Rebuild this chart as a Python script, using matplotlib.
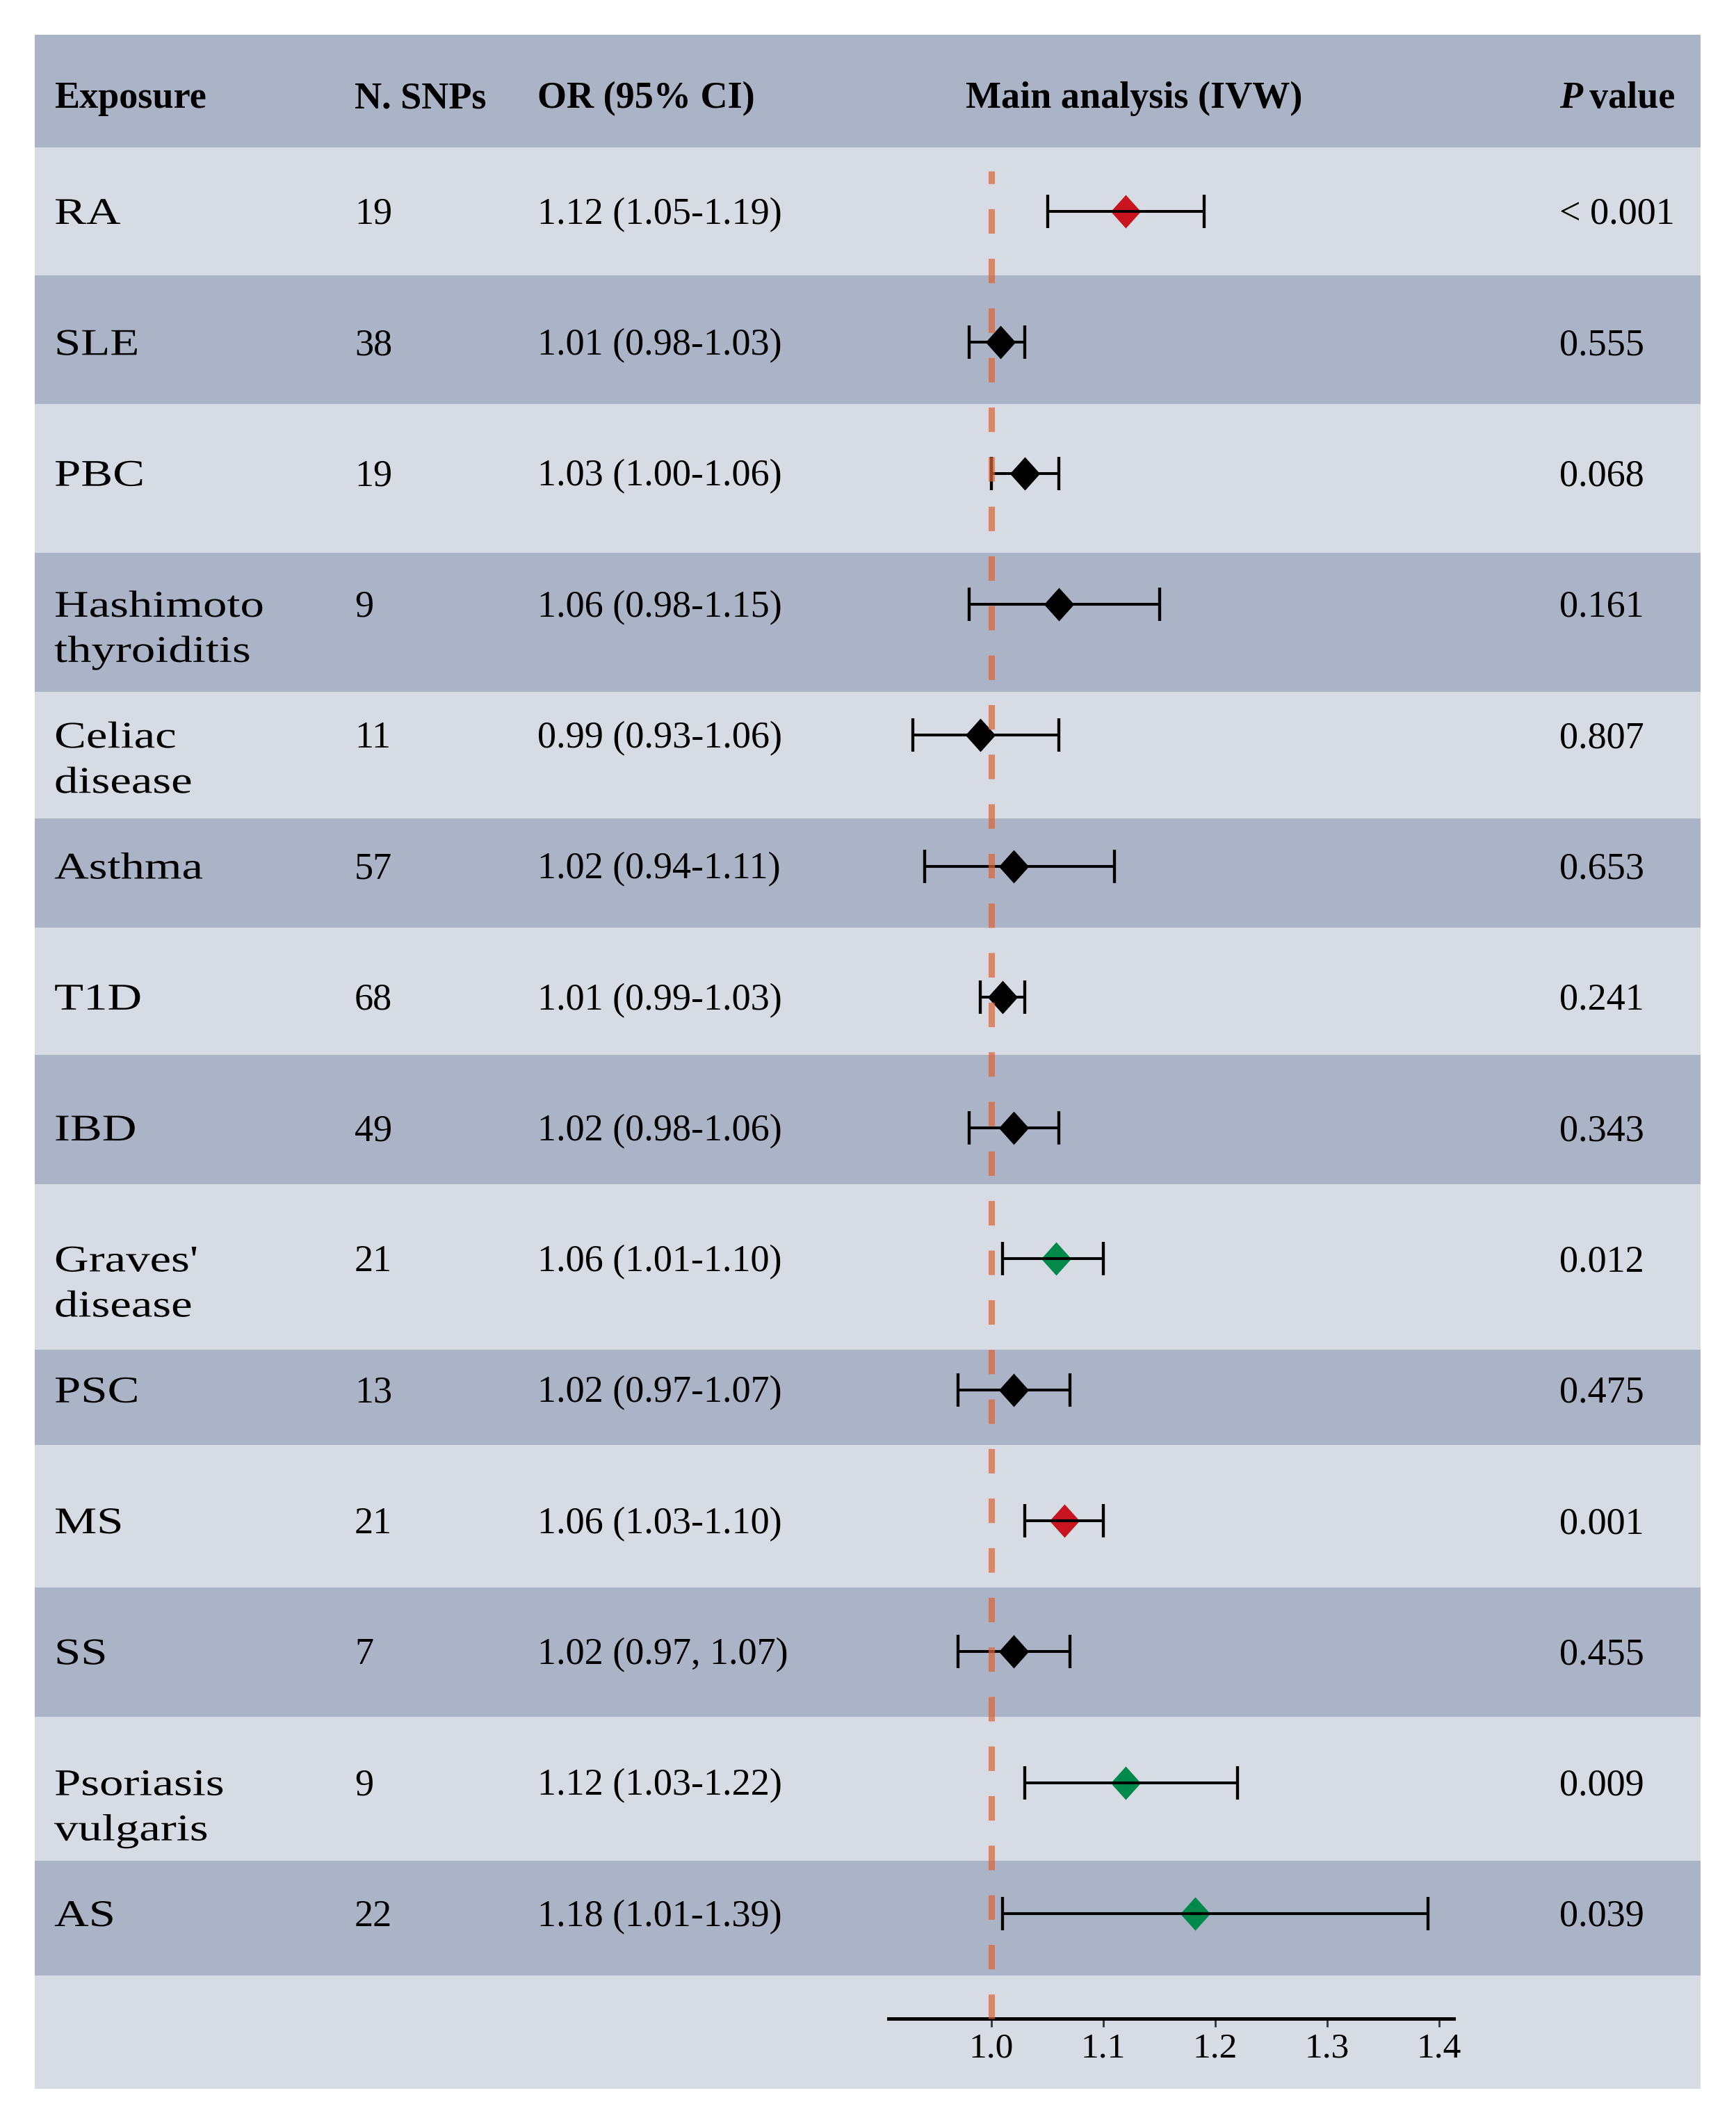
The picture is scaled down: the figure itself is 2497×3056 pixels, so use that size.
import matplotlib
matplotlib.use("Agg")
import matplotlib.pyplot as plt
from matplotlib.transforms import Affine2D
from matplotlib.patheffects import AbstractPathEffect

plt.rcParams['font.family'] = ['Liberation Serif', 'DejaVu Serif']

# ---- data ----
exposures = ["RA", "SLE", "PBC", "Hashimoto\nthyroiditis", "Celiac\ndisease", "Asthma",
             "T1D", "IBD", "Graves'\ndisease", "PSC", "MS", "SS", "Psoriasis\nvulgaris", "AS"]
n_snps = [19, 38, 19, 9, 11, 57, 68, 49, 21, 13, 21, 7, 9, 22]
# point estimates as drawn (the text column shows them rounded)
or_vals = [1.12, 1.008, 1.03, 1.06, 0.99, 1.02, 1.01, 1.02, 1.058, 1.02, 1.065, 1.02, 1.12, 1.182]
ci_low = [1.05, 0.98, 1.00, 0.98, 0.93, 0.94, 0.99, 0.98, 1.01, 0.97, 1.03, 0.97, 1.03, 1.01]
ci_high = [1.19, 1.03, 1.06, 1.15, 1.06, 1.11, 1.03, 1.06, 1.10, 1.07, 1.10, 1.07, 1.22, 1.39]
or_labels = ["1.12 (1.05-1.19)", "1.01 (0.98-1.03)", "1.03 (1.00-1.06)", "1.06 (0.98-1.15)",
             "0.99 (0.93-1.06)", "1.02 (0.94-1.11)", "1.01 (0.99-1.03)", "1.02 (0.98-1.06)",
             "1.06 (1.01-1.10)", "1.02 (0.97-1.07)", "1.06 (1.03-1.10)", "1.02 (0.97, 1.07)",
             "1.12 (1.03-1.22)", "1.18 (1.01-1.39)"]
p_labels = ["< 0.001", "0.555", "0.068", "0.161", "0.807", "0.653", "0.241", "0.343",
            "0.012", "0.475", "0.001", "0.455", "0.009", "0.039"]
# marker group: 'red' = strong, 'green' = nominal, 'black' = not significant
groups = ["red", "black", "black", "black", "black", "black", "black", "black",
          "green", "black", "red", "black", "green", "green"]
ticks = [1.0, 1.1, 1.2, 1.3, 1.4]

# ---- layout (pixels from top-left of the canvas) ----
W, H = 2497, 3056
band_edges = [50, 212, 396, 581, 795, 995, 1177, 1334, 1517, 1703, 1941, 2078,
              2283, 2469, 2676, 2841, 3004]
table_left, table_right = 50, 2446
col_x = [78, 510, 773, 1389, 2243]
header_y = 137
row0_y = 304
row_step = 188.3
line_gap = 65
axis_y = 2903
plot_left, plot_right, plot_top = 1278, 2091, 212
x_range = (0.908, 1.413)

light = '#D6DBE4'
dark = '#ABB4C7'
colors = {"red": '#C8141E', "green": '#00894A', "black": 'black'}
fs = 39


class Stretch(AbstractPathEffect):
    # widen text horizontally around its left origin
    def __init__(self, sx):
        super().__init__()
        self.sx = sx

    def draw_path(self, renderer, gc, tpath, affine, rgbFace=None):
        renderer.draw_path(gc, tpath, Affine2D().scale(self.sx, 1) + affine, rgbFace)


fig = plt.figure(figsize=(W / 100, H / 100), dpi=100)
fig.patch.set_facecolor('white')

# background table
ax = fig.add_axes([0, 0, 1, 1])
ax.set_xlim(0, W)
ax.set_ylim(H, 0)
ax.axis('off')

for k in range(len(band_edges) - 1):
    c = dark if k % 2 == 0 else light
    ax.fill_between([table_left, table_right], band_edges[k], band_edges[k + 1],
                    color=c, lw=0)

# header
hb = header_y + 18
ax.text(col_x[0], hb, "Exposure", fontsize=fs, fontweight='bold', va='baseline')
ax.text(col_x[1], hb, "N. SNPs", fontsize=fs, fontweight='bold', va='baseline')
ax.text(col_x[2], hb, "OR (95% CI)", fontsize=fs, fontweight='bold', va='baseline')
ax.text(col_x[3], hb, "Main analysis (IVW)", fontsize=fs, fontweight='bold', va='baseline')
tp = ax.text(col_x[4], hb, "P", fontsize=fs, fontweight='bold', style='italic', va='baseline')
renderer = fig.canvas.get_renderer()
bb = tp.get_window_extent(renderer)
p_end = ax.transData.inverted().transform((bb.x1, bb.y0))[0]
ax.text(p_end + 10, hb, "value", fontsize=fs, fontweight='bold', va='baseline')

# rows
row_y = [row0_y + row_step * i for i in range(len(exposures))]
for i, y in enumerate(row_y):
    b = y + 18
    for j, part in enumerate(exposures[i].split("\n")):
        ax.text(col_x[0], b + j * line_gap, part, fontsize=fs, va='baseline',
                path_effects=[Stretch(1.27)])
    ax.text(col_x[1], b, str(n_snps[i]), fontsize=fs, va='baseline')
    ax.text(col_x[2], b, or_labels[i], fontsize=fs, va='baseline')
    ax.text(col_x[4], b, p_labels[i], fontsize=fs, va='baseline')

# forest plot
ax2 = fig.add_axes([plot_left / W, 1 - axis_y / H, (plot_right - plot_left) / W,
                    (axis_y - plot_top) / H])
ax2.patch.set_visible(False)
ax2.set_xlim(*x_range)
ax2.set_ylim(axis_y, plot_top)
for s in ['top', 'left', 'right']:
    ax2.spines[s].set_visible(False)
ax2.spines['bottom'].set_linewidth(3.6)
ax2.set_yticks([])
ax2.set_xticks(ticks)
ax2.set_xticklabels([f"{t:.1f}" for t in ticks])
ax2.tick_params(axis='x', length=8.6, width=2, color='#333333', pad=6, labelsize=37)

diamond = [(-0.45, 0), (0, 0.5), (0.45, 0), (0, -0.5), (-0.45, 0)]
for i, y in enumerate(row_y):
    ax2.plot(or_vals[i], y, marker=diamond, ms=34.6, mew=0, color=colors[groups[i]],
             zorder=2, clip_on=False)
    ax2.errorbar(or_vals[i], y, xerr=[[or_vals[i] - ci_low[i]], [ci_high[i] - or_vals[i]]],
                 fmt='none', ecolor='black', elinewidth=2.9, capsize=17.3, capthick=3.1,
                 zorder=3, clip_on=False)

ax2.plot([1.0, 1.0], [axis_y, 246], color='#D7653B', alpha=0.7, lw=6.5,
         linestyle=(0, (3.9, 4.0)), zorder=4, clip_on=False)

plt.savefig('out.png', dpi=100)
